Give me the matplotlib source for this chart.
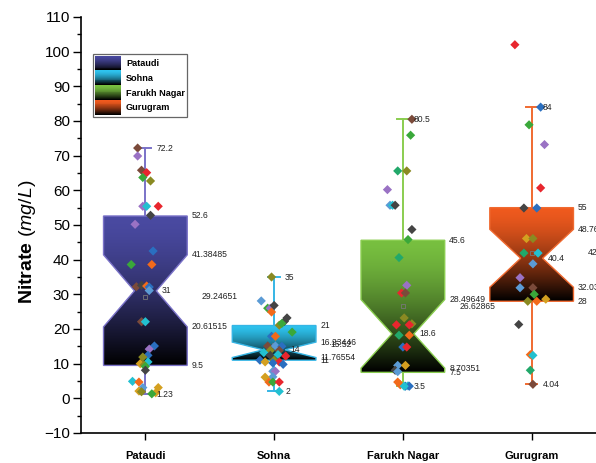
import numpy as np
import matplotlib
matplotlib.use("Agg")
import matplotlib.pyplot as plt
from matplotlib.patches import Polygon, Rectangle
from matplotlib.legend_handler import HandlerBase
from matplotlib.colors import to_rgb

plt.rcParams['font.family'] = ['Liberation Sans', 'DejaVu Sans']
plt.rcParams['mathtext.fontset'] = 'custom'
plt.rcParams['mathtext.bf'] = 'Liberation Sans:bold'
plt.rcParams['mathtext.it'] = 'Liberation Sans:italic'
plt.rcParams['mathtext.rm'] = 'Liberation Sans'

# ---- data ----
sites = ["Pataudi", "Sohna", "Farukh Nagar", "Gurugram"]

q1 = [9.5, 11, 7.5, 28]
q3 = [52.6, 21, 45.6, 55]
median = [31, 14, 18.6, 40.4]
notch_lo = [20.61515, 11.76554, 8.70351, 32.03629]
notch_hi = [41.38485, 16.23446, 28.49649, 48.76371]
wmin = [1.23, 2, 3.5, 4.04]
wmax = [72.2, 35, 80.5, 84]
mean = [29.24651, 15.52, 26.62865, 42.01]

pataudi = [72.2, 69.9, 65.8, 65.1, 63.7, 62.7, 55.4, 55.4, 55.4, 52.8, 50.2,
           42.5, 38.6, 38.6, 32.2, 32.6, 32.4, 32.1, 31.1, 22.1, 22.1, 15.1,
           14.2, 12.4, 11.9, 10.5, 10.0, 9.6, 9.2, 8.1, 4.9, 4.7, 3.1, 2.1,
           3.1, 1.9, 1.6, 1.3]
sohna = [35.0, 28.1, 26.0, 26.0, 24.9, 26.8, 23.2, 22.2, 21.1, 21.6, 19.1,
         17.9, 17.9, 15.1, 15.1, 15.0, 13.8, 13.8, 13.2, 12.4, 12.6, 12.2,
         11.0, 10.5, 11.0, 10.5, 9.8, 10.2, 7.8, 7.8, 6.2, 6.1, 4.7, 4.7,
         4.7, 2.0]
farukh = [80.5, 75.9, 65.6, 65.6, 60.2, 55.7, 55.7, 55.7, 48.7, 45.8, 40.6,
          32.6, 30.4, 30.4, 23.2, 21.5, 21.2, 21.2, 18.2, 18.2, 14.8, 14.8,
          9.5, 9.5, 8.1, 7.7, 4.7, 3.9, 3.5, 3.6, 3.5, 3.5]
gurugram = [102, 84, 78.9, 73.2, 60.7, 54.9, 54.9, 46.1, 46.1, 41.9, 41.9,
            38.8, 34.8, 31.9, 31.9, 30.0, 28.0, 28.0, 28.6, 21.3, 12.6, 12.4,
            8.1, 4.04]
values = [pataudi, sohna, farukh, gurugram]

# ---- horizontal scatter of the points (as drawn) ----
jit_pataudi = [-0.06, -0.06, -0.03, 0.01, -0.02, 0.04, -0.02, 0.01, 0.10, 0.04,
               -0.08, 0.06, -0.11, 0.05, -0.07, -0.03, 0.01, 0.03, 0.03, -0.03,
               0.0, 0.07, 0.03, 0.02, -0.02, 0.02, -0.04, -0.01, 0.0, 0.0,
               -0.10, -0.05, -0.02, -0.05, 0.10, -0.03, 0.08, 0.05]
jit_sohna = [-0.02, -0.10, -0.05, -0.03, -0.02, 0.0, 0.10, 0.08, 0.04, 0.06,
             0.14, -0.02, 0.01, -0.05, 0.01, 0.06, -0.03, 0.04, -0.08, -0.03,
             0.03, 0.09, -0.11, -0.07, 0.0, 0.04, 0.07, -0.01, -0.01, 0.01,
             -0.01, -0.07, -0.04, -0.01, 0.04, 0.04]
jit_farukh = [0.07, 0.06, -0.04, 0.03, -0.12, -0.10, -0.08, -0.06, 0.07, 0.04,
              -0.03, 0.03, -0.01, 0.02, 0.01, 0.07, -0.05, 0.05, -0.03, 0.05,
              0.0, 0.03, -0.04, 0.02, -0.06, -0.04, -0.04, -0.02, 0.02, 0.04,
              0.05, 0.01]
jit_gurugram = [-0.13, 0.07, -0.02, 0.10, 0.07, -0.06, 0.04, -0.04, 0.01, -0.06,
                0.05, 0.01, -0.09, -0.09, 0.01, 0.02, -0.03, 0.04, 0.11, -0.10,
                -0.01, 0.01, -0.01, 0.01]
jitter = [jit_pataudi, jit_sohna, jit_farukh, jit_gurugram]

br, pu, rd, ol = '#7b4a3a', '#9a72c4', '#e8262e', '#8a8a22'
gr, cy, bl, og = '#3aa83a', '#22c0d0', '#2a6fc0', '#f26a1a'
dg, go, sb, tg = '#444444', '#d4a020', '#5b9bd5', '#22a86a'
col_pataudi = [br, pu, br, rd, gr, ol, pu, cy, rd, dg, pu, bl, gr, og, br, dg,
               og, bl, sb, br, cy, bl, pu, bl, ol, cy, go, ol, gr, dg, cy, og,
               sb, go, go, ol, go, gr]
col_sohna = [ol, sb, gr, pu, og, dg, dg, dg, ol, gr, gr, bl, og, br, sb, bl,
             ol, br, cy, dg, cy, rd, bl, go, ol, rd, bl, bl, sb, pu, sb, go,
             og, gr, rd, cy]
col_farukh = [br, gr, tg, ol, pu, sb, cy, dg, dg, gr, tg, pu, rd, br, ol, ol,
              rd, rd, tg, og, bl, rd, sb, go, dg, sb, og, og, bl, cy, bl, cy]
col_gurugram = [rd, bl, gr, pu, rd, dg, bl, go, ol, tg, cy, sb, pu, sb, br, gr,
                ol, og, go, dg, og, cy, tg, br]
pt_colors = [col_pataudi, col_sohna, col_farukh, col_gurugram]

box_top = ['#4a4aa2', '#2ec4ef', '#78c040', '#f05a1e']
box_edge = ['#7a72c8', '#35b5e5', '#8acd50', '#f06a30']

pos = np.arange(1, len(sites) + 1)
hw = 0.325   # box half width
nw = 0.085   # notch waist half width


def gradient(c, n=256):
    t = np.linspace(0, 1, n)[:, None]          # 0 = top
    f = 1 - t ** 1.5
    return np.clip(np.array(to_rgb(c))[None, :] * f, 0, 1)


def fmt(v):
    return f"{v:.5f}".rstrip('0').rstrip('.')


class GradHandler(HandlerBase):
    def create_artists(self, legend, orig, xd, yd, w, h, fontsize, trans):
        c = orig.get_facecolor()
        g = gradient(c, 16)
        arts = []
        for i in range(16):
            y0 = -yd + h * (1 - (i + 1) / 16)
            arts.append(Rectangle((-xd, y0), w, h / 16 + 0.2, facecolor=g[i],
                                  edgecolor='none', transform=trans))
        return arts


fig = plt.figure(figsize=(5.96, 4.63), dpi=100)
ax = fig.add_axes([81 / 596, 30 / 463, 1 - 81 / 596, 416 / 463])

for i, p in enumerate(pos):
    verts = [(p - hw, q1[i]), (p - hw, notch_lo[i]), (p - nw, median[i]),
             (p - hw, notch_hi[i]), (p - hw, q3[i]), (p + hw, q3[i]),
             (p + hw, notch_hi[i]), (p + nw, median[i]), (p + hw, notch_lo[i]),
             (p + hw, q1[i])]
    poly = Polygon(verts, closed=True, facecolor='none', edgecolor=box_edge[i],
                   lw=1.0, zorder=3)
    ax.add_patch(poly)
    im = ax.imshow(gradient(box_top[i])[:, None, :],
                   extent=(p - hw, p + hw, q1[i], q3[i]), origin='upper',
                   aspect='auto', zorder=2, interpolation='bilinear')
    im.set_clip_path(poly)

    # whiskers and caps
    ax.plot([p, p], [q3[i], wmax[i]], color=box_edge[i], lw=1.4, zorder=1)
    ax.plot([p, p], [wmin[i], q1[i]], color=box_edge[i], lw=1.4, zorder=1)
    ax.plot([p - 0.045, p + 0.045], [wmax[i]] * 2, color=box_edge[i], lw=1.4, zorder=1)
    ax.plot([p - 0.045, p + 0.045], [wmin[i]] * 2, color=box_edge[i], lw=1.4, zorder=1)

    # mean marker
    ax.plot(p, mean[i], 's', ms=3.5, mfc='none', mec='#777777', mew=0.6, zorder=4)

    # points
    xs = p + np.array(jitter[i])
    ax.scatter(xs, values[i], marker='D', s=22, c=pt_colors[i], linewidths=0,
               zorder=5)

    kw = dict(fontsize=6.2, color='#222222', va='center', ha='left', zorder=6)
    for v in (q3[i], notch_hi[i], notch_lo[i], q1[i]):
        ax.text(p + hw + 0.035, v, fmt(v), **kw)
    ax.text(p + nw + 0.04, median[i], fmt(median[i]), **kw)
    ax.text(p + 0.085, wmax[i], fmt(wmax[i]), **kw)
    ax.text(p + 0.085, wmin[i], fmt(wmin[i]), **kw)
    ax.text(p + 0.44, mean[i], fmt(mean[i]), **kw)

ax.set_xlim(0.5, 4.5)
ax.set_ylim(-10, 110)
ax.set_yticks(np.arange(-10, 111, 10))
ax.set_yticks(np.arange(-5, 110, 10), minor=True)
ax.set_xticks(pos)
ax.set_xticklabels(sites, fontsize=8, fontweight='bold')
ax.tick_params(axis='y', labelsize=11, length=6, width=1, pad=2)
ax.tick_params(axis='y', which='minor', length=3, width=1)
ax.tick_params(axis='x', length=5, width=1, pad=8)
for s in ('top', 'right'):
    ax.spines[s].set_visible(False)
for s in ('left', 'bottom'):
    ax.spines[s].set_linewidth(1.2)

fig.text(28 / 596, 1 - 242 / 463, r"$\mathbf{Nitrate}$ $\mathit{(mg/L)}$",
         rotation=90, ha='center', va='center', fontsize=14)

handles = [Rectangle((0, 0), 1, 1, facecolor=c) for c in box_top]
leg = ax.legend(handles, sites, handler_map={Rectangle: GradHandler()},
                loc='upper left', bbox_to_anchor=(93 / 596, 1 - 54 / 463),
                bbox_transform=fig.transFigure,
                prop={'weight': 'bold', 'size': 6.6}, handlelength=2.9,
                handleheight=2.1, labelspacing=0.0, handletextpad=0.5,
                borderpad=0.2, borderaxespad=0, fancybox=False, framealpha=1)
leg.get_frame().set_edgecolor('#666666')
leg.get_frame().set_linewidth(0.9)

fig.savefig("out.png", dpi=100)
